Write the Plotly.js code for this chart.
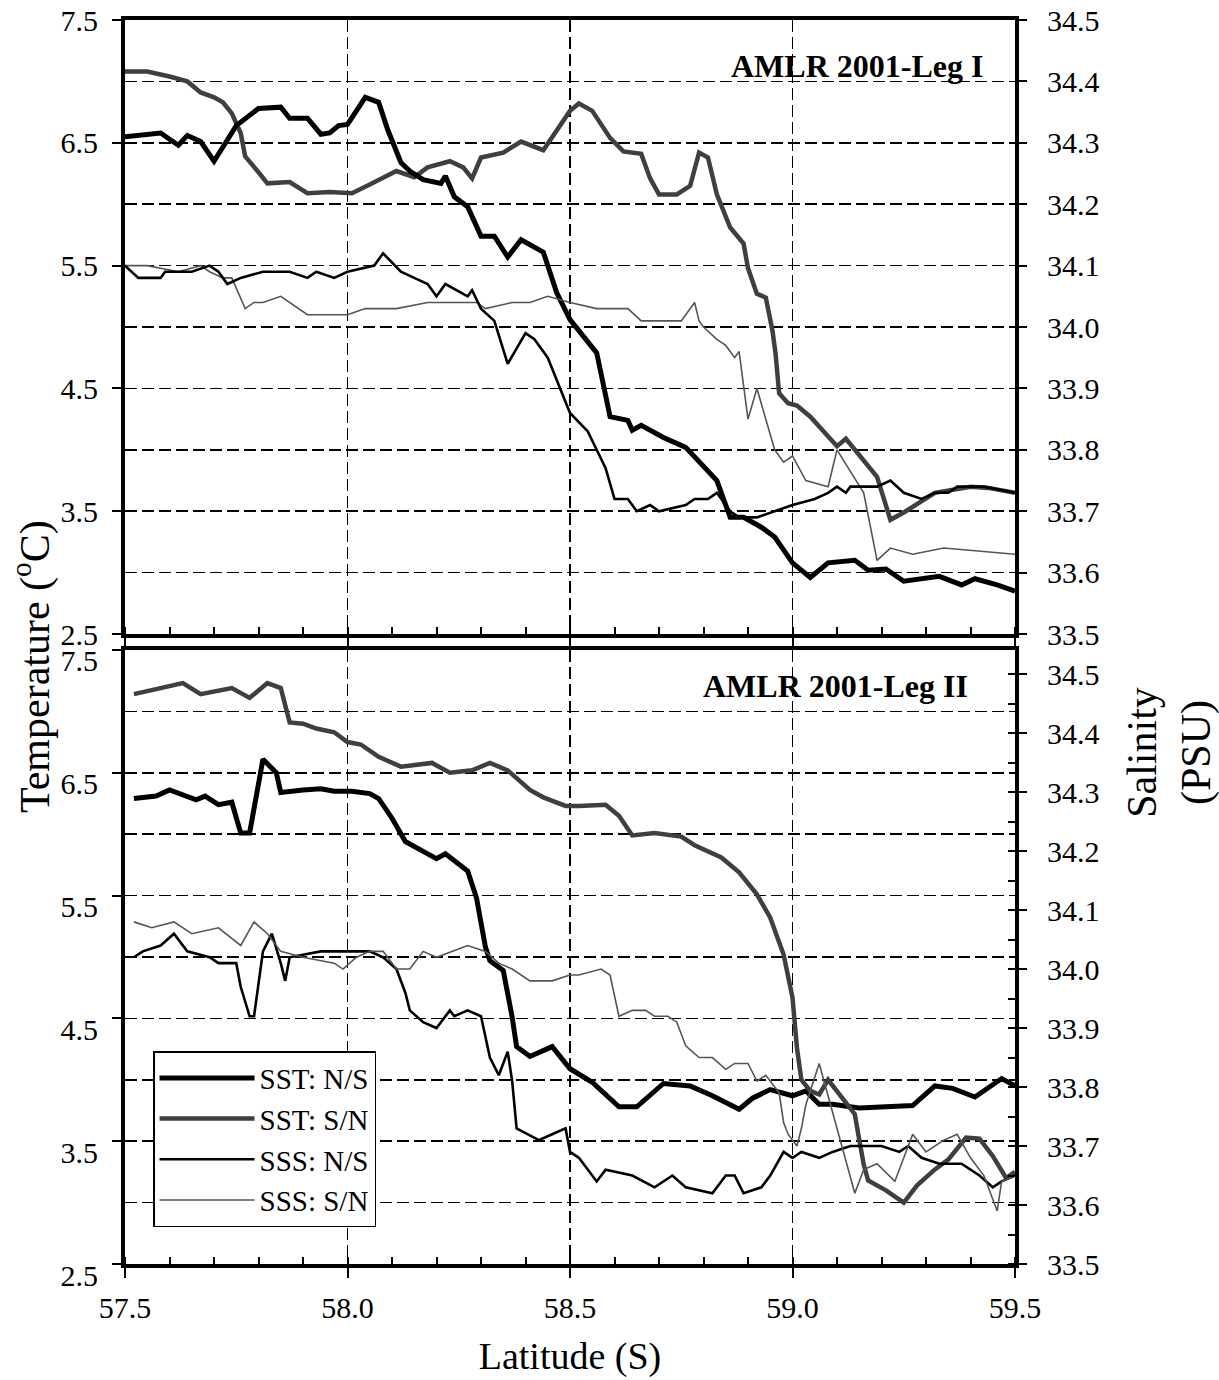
<!DOCTYPE html>
<html>
<head>
<meta charset="utf-8">
<script src="https://cdn.plot.ly/plotly-3.0.1.min.js"></script>
<style>
html,body{margin:0;padding:0;background:#fff;}
#chart{width:1219px;height:1380px;}
</style>
</head>
<body>
<div id="chart"></div>
<script>
// ---------- Leg I (top panel) ----------
var legI_sstNS_lat = [57.50,57.58,57.62,57.64,57.67,57.70,57.75,57.80,57.85,57.87,57.91,57.94,57.96,57.98,58.00,58.04,58.07,58.09,58.12,58.14,58.17,58.21,58.22,58.24,58.27,58.30,58.33,58.36,58.39,58.44,58.47,58.50,58.56,58.59,58.63,58.64,58.66,58.71,58.76,58.80,58.83,58.86,58.89,58.93,58.96,59.00,59.04,59.08,59.14,59.17,59.21,59.25,59.29,59.33,59.38,59.41,59.46,59.50];
var legI_sstNS_temp = [6.55,6.58,6.48,6.56,6.51,6.35,6.64,6.78,6.79,6.70,6.70,6.57,6.58,6.64,6.65,6.87,6.83,6.61,6.34,6.27,6.20,6.17,6.23,6.06,5.98,5.74,5.74,5.57,5.71,5.61,5.28,5.06,4.79,4.27,4.24,4.16,4.20,4.10,4.02,3.86,3.75,3.45,3.45,3.37,3.29,3.08,2.96,3.08,3.10,3.02,3.03,2.93,2.95,2.97,2.90,2.95,2.90,2.85];

var legI_sstSN_lat = [57.50,57.55,57.60,57.64,57.67,57.70,57.72,57.74,57.76,57.77,57.80,57.82,57.87,57.91,57.96,58.01,58.05,58.11,58.15,58.18,58.23,58.26,58.28,58.30,58.35,58.39,58.44,58.47,58.50,58.52,58.55,58.59,58.62,58.66,58.68,58.70,58.74,58.77,58.79,58.81,58.83,58.86,58.89,58.90,58.92,58.94,58.955,58.962,58.97,58.99,59.01,59.04,59.10,59.12,59.16,59.19,59.22,59.25,59.32,59.37,59.40,59.44,59.50];
var legI_sstSN_temp = [7.08,7.08,7.04,7.00,6.91,6.87,6.83,6.74,6.58,6.39,6.26,6.17,6.18,6.09,6.10,6.09,6.16,6.27,6.22,6.30,6.35,6.30,6.21,6.38,6.42,6.51,6.44,6.60,6.76,6.82,6.76,6.54,6.43,6.41,6.21,6.08,6.08,6.15,6.42,6.38,6.08,5.81,5.68,5.48,5.27,5.24,4.97,4.78,4.46,4.38,4.36,4.27,4.03,4.09,3.92,3.78,3.43,3.49,3.65,3.68,3.70,3.69,3.65];

var legI_sssNS_lat = [57.50,57.53,57.58,57.59,57.65,57.69,57.71,57.73,57.76,57.81,57.87,57.91,57.93,57.97,58.00,58.06,58.08,58.12,58.15,58.18,58.20,58.22,58.27,58.28,58.30,58.33,58.36,58.40,58.42,58.45,58.50,58.54,58.58,58.60,58.63,58.65,58.68,58.70,58.76,58.78,58.81,58.83,58.86,58.88,58.92,58.96,59.00,59.05,59.08,59.10,59.12,59.13,59.19,59.22,59.25,59.29,59.32,59.35,59.37,59.43,59.50];
var legI_sssNS_sal = [34.10,34.08,34.08,34.09,34.09,34.10,34.09,34.07,34.08,34.09,34.09,34.08,34.09,34.08,34.09,34.10,34.12,34.09,34.08,34.07,34.05,34.07,34.05,34.06,34.03,34.01,33.94,33.99,33.98,33.95,33.86,33.83,33.77,33.72,33.72,33.70,33.71,33.70,33.71,33.72,33.72,33.73,33.70,33.69,33.69,33.70,33.71,33.72,33.73,33.74,33.73,33.74,33.74,33.75,33.73,33.72,33.73,33.73,33.74,33.74,33.73];

var legI_sssSN_lat = [57.50,57.55,57.62,57.67,57.69,57.72,57.74,57.77,57.79,57.81,57.85,57.87,57.91,57.96,58.00,58.04,58.11,58.18,58.22,58.29,58.31,58.37,58.41,58.45,58.50,58.56,58.63,58.66,58.68,58.75,58.78,58.79,58.80,58.83,58.85,58.87,58.88,58.90,58.92,58.96,58.98,59.00,59.03,59.08,59.10,59.16,59.19,59.22,59.27,59.34,59.50];
var legI_sssSN_sal = [34.10,34.10,34.09,34.10,34.09,34.08,34.08,34.03,34.04,34.04,34.05,34.04,34.02,34.02,34.02,34.03,34.03,34.04,34.04,34.04,34.03,34.04,34.04,34.05,34.04,34.03,34.03,34.01,34.01,34.01,34.04,34.01,34.00,33.98,33.97,33.95,33.96,33.85,33.90,33.80,33.78,33.79,33.75,33.74,33.80,33.73,33.62,33.64,33.63,33.64,33.63];

// ---------- Leg II (bottom panel) ----------
var legII_sstNS_lat = [57.52,57.57,57.60,57.63,57.66,57.68,57.71,57.74,57.76,57.78,57.81,57.84,57.85,57.90,57.94,57.97,58.01,58.05,58.07,58.10,58.13,58.17,58.20,58.22,58.24,58.27,58.29,58.31,58.32,58.35,58.37,58.38,58.41,58.46,58.50,58.55,58.61,58.65,58.71,58.77,58.82,58.88,58.91,58.95,59.00,59.03,59.06,59.09,59.15,59.20,59.27,59.32,59.36,59.41,59.44,59.47,59.50];
var legII_sstNS_temp = [6.29,6.31,6.36,6.32,6.28,6.31,6.24,6.26,6.01,6.01,6.61,6.50,6.34,6.36,6.37,6.35,6.35,6.33,6.29,6.13,5.94,5.86,5.80,5.84,5.78,5.70,5.48,5.08,4.97,4.89,4.51,4.27,4.19,4.27,4.09,3.98,3.78,3.78,3.97,3.95,3.87,3.76,3.85,3.92,3.87,3.91,3.80,3.80,3.77,3.78,3.79,3.95,3.93,3.86,3.93,4.01,3.95];

var legII_sstSN_lat = [57.52,57.58,57.63,57.67,57.71,57.74,57.78,57.82,57.85,57.87,57.90,57.93,57.97,58.00,58.03,58.07,58.12,58.19,58.23,58.28,58.32,58.36,58.41,58.44,58.49,58.52,58.58,58.61,58.64,58.69,58.75,58.78,58.84,58.88,58.92,58.95,58.98,59.00,59.01,59.02,59.04,59.06,59.08,59.11,59.14,59.15,59.16,59.17,59.21,59.25,59.28,59.32,59.35,59.39,59.42,59.45,59.47,59.48,59.50];
var legII_sstSN_temp = [7.14,7.19,7.23,7.14,7.17,7.19,7.11,7.23,7.19,6.91,6.90,6.86,6.83,6.75,6.73,6.63,6.55,6.58,6.50,6.52,6.58,6.52,6.36,6.30,6.23,6.23,6.24,6.15,5.99,6.01,5.98,5.91,5.81,5.69,5.51,5.32,5.02,4.67,4.26,4.00,3.91,3.88,4.00,3.86,3.72,3.51,3.31,3.18,3.10,3.00,3.14,3.27,3.35,3.53,3.52,3.38,3.25,3.20,3.25];

var legII_sssNS_lat = [57.52,57.54,57.58,57.61,57.64,57.69,57.71,57.75,57.76,57.78,57.79,57.81,57.83,57.85,57.86,57.87,57.94,58.02,58.05,58.08,58.11,58.13,58.14,58.17,58.20,58.23,58.24,58.27,58.30,58.32,58.34,58.36,58.37,58.38,58.43,58.46,58.49,58.50,58.52,58.56,58.58,58.64,58.69,58.73,58.76,58.82,58.85,58.87,58.89,58.93,58.95,58.98,59.00,59.02,59.06,59.09,59.13,59.20,59.24,59.26,59.29,59.33,59.38,59.42,59.45,59.47,59.50];
var legII_sssNS_sal = [34.02,34.03,34.04,34.06,34.03,34.02,34.01,34.01,33.97,33.92,33.92,34.03,34.06,34.01,33.98,34.02,34.03,34.03,34.03,34.02,34.00,33.96,33.93,33.91,33.90,33.93,33.92,33.93,33.92,33.85,33.82,33.86,33.81,33.73,33.71,33.72,33.73,33.69,33.68,33.64,33.66,33.65,33.63,33.65,33.63,33.62,33.65,33.65,33.62,33.63,33.65,33.69,33.68,33.69,33.68,33.69,33.70,33.70,33.69,33.70,33.68,33.67,33.67,33.65,33.63,33.64,33.65];

var legII_sssSN_lat = [57.52,57.56,57.61,57.65,57.71,57.76,57.79,57.82,57.85,57.90,57.97,57.99,58.02,58.05,58.08,58.11,58.14,58.17,58.20,58.27,58.31,58.34,58.37,58.41,58.43,58.46,58.50,58.52,58.57,58.59,58.61,58.64,58.67,58.69,58.72,58.74,58.76,58.79,58.82,58.85,58.87,58.90,58.92,58.94,58.97,58.98,58.99,59.01,59.02,59.03,59.06,59.14,59.16,59.19,59.23,59.27,59.30,59.34,59.37,59.40,59.43,59.46,59.47,59.50];
var legII_sssSN_sal = [34.08,34.07,34.08,34.06,34.07,34.04,34.08,34.06,34.03,34.02,34.01,34.00,34.02,34.03,34.03,34.00,34.00,34.03,34.02,34.04,34.03,34.01,34.00,33.98,33.98,33.98,33.99,33.99,34.00,33.99,33.92,33.93,33.93,33.92,33.92,33.91,33.87,33.85,33.85,33.83,33.84,33.84,33.81,33.82,33.79,33.74,33.72,33.70,33.73,33.77,33.84,33.62,33.66,33.67,33.64,33.72,33.69,33.71,33.72,33.68,33.65,33.59,33.64,33.65];

var seriesNames = ['SST: N/S','SST: S/N','SSS: N/S','SSS: S/N'];
var panelLabels = ['AMLR 2001-Leg I','AMLR 2001-Leg II'];
var tempTicks = [2.5,3.5,4.5,5.5,6.5,7.5];
var latTicks = [57.5,58.0,58.5,59.0,59.5];

var FONT = 'Liberation Serif, Times New Roman, serif';
var styles = [
  {color:'#000000', width:5},
  {color:'#3f3f3f', width:4.5},
  {color:'#000000', width:2.6},
  {color:'#555555', width:1.6}
];

function tr(x, y, xa, ya, k, show){
  return {type:'scatter', mode:'lines', x:x, y:y, xaxis:xa, yaxis:ya,
    name:seriesNames[k], showlegend:show, line:{color:styles[k].color, width:styles[k].width, shape:'linear'},
    hoverinfo:'skip'};
}

var data = [
  tr(legI_sssSN_lat, legI_sssSN_sal, 'x', 'y2', 3, false),
  tr(legI_sssNS_lat, legI_sssNS_sal, 'x', 'y2', 2, false),
  tr(legI_sstSN_lat, legI_sstSN_temp, 'x', 'y', 1, false),
  tr(legI_sstNS_lat, legI_sstNS_temp, 'x', 'y', 0, false),
  tr(legII_sstNS_lat, legII_sstNS_temp, 'x2', 'y3', 0, true),
  tr(legII_sstSN_lat, legII_sstSN_temp, 'x2', 'y3', 1, true),
  tr(legII_sssNS_lat, legII_sssNS_sal, 'x2', 'y4', 2, true),
  tr(legII_sssSN_lat, legII_sssSN_sal, 'x2', 'y4', 3, true)
];

var GRID = {showgrid:true, gridcolor:'#000', gridwidth:1.6, griddash:'12px,5px'};
var tickFont = {family:FONT, size:30, color:'#000'};

function xAxis(anchor, labels){
  return Object.assign({
    anchor:anchor, domain:[0,1], range:[57.5,59.5], tickmode:'array', tickvals:latTicks,
    tickformat:'.1f', showticklabels:labels, ticks:'outside', ticklen:10, tickwidth:2, tickcolor:'#000',
    ticklabelstandoff:4, tickfont:tickFont,
    showline:true, linewidth:4, linecolor:'#000', mirror:true, zeroline:false,
    minor:{dtick:0.1, tick0:57.5, ticks:'inside', ticklen:7, tickwidth:2, tickcolor:'#000', showgrid:false}
  }, GRID);
}
function tAxis(anchor, domain, shift){
  return Object.assign({
    anchor:anchor, domain:domain, range:[2.5,7.5], tickmode:'array', tickvals:tempTicks, tickformat:'.1f',
    ticks:'outside', ticklen:9, tickwidth:2, tickcolor:'#000', ticklabelstandoff:8, ticklabelshift:shift, tickfont:tickFont,
    showline:true, linewidth:4, linecolor:'#000', mirror:true, zeroline:false,
    minor:{dtick:0.5, tick0:2.5, ticks:'', showgrid:true, gridcolor:'#000', gridwidth:1.6, griddash:'12px,5px'}
  }, GRID);
}
function sAxis(anchor, overlay, rng, minorTicks){
  var a = {
    anchor:anchor, overlaying:overlay, side:'right', range:rng, dtick:0.1, tick0:33.5, tickformat:'.1f',
    ticks:'outside', ticklen:8, tickwidth:2, tickcolor:'#000', ticklabelstandoff:14, tickfont:tickFont,
    showline:true, linewidth:4, linecolor:'#000', showgrid:false, zeroline:false
  };
  if (minorTicks) a.minor = {dtick:0.05, tick0:33.5, ticks:'inside', ticklen:7, tickwidth:2, tickcolor:'#000', showgrid:false};
  return a;
}

var layout = {
  width:1219, height:1380,
  margin:{l:125, r:204, t:20, b:116},
  paper_bgcolor:'#fff', plot_bgcolor:'#fff',
  font:{family:FONT, color:'#000'},
  showlegend:true,
  xaxis: xAxis('y', false),
  yaxis: tAxis('x', [0.5064, 1], 0),
  yaxis2: sAxis('x', 'y', [33.5, 34.5], false),
  xaxis2: Object.assign(xAxis('y3', true), {title:{text:'Latitude (S)', font:{family:FONT, size:38, color:'#000'}, standoff:20}}),
  yaxis3: tAxis('x2', [0, 0.4936], 11),
  yaxis4: sAxis('x2', 'y3', [33.5, 34.541], true),
  legend:{x:0.0315, y:0.1712, xanchor:'left', yanchor:'top', bgcolor:'#fff', bordercolor:'#000', borderwidth:1.5,
    font:{family:FONT, size:29, color:'#000'}, itemwidth:95, traceorder:'normal'},
  annotations:[
    {text:panelLabels[0], xref:'x domain', yref:'y domain', x:0.966, y:0.925, xanchor:'right', yanchor:'middle',
     showarrow:false, font:{family:FONT, size:32, color:'#000', weight:'bold'}},
    {text:panelLabels[1], xref:'x2 domain', yref:'y3 domain', x:0.949, y:0.941, xanchor:'right', yanchor:'middle',
     showarrow:false, font:{family:FONT, size:32, color:'#000', weight:'bold'}},
    {text:'Temperature (<sup>o</sup>C)', xref:'paper', yref:'paper', x:-0.1045, y:0.4807, xanchor:'center', yanchor:'middle',
     textangle:-90, showarrow:false, font:{family:FONT, size:42, color:'#000'}},
    {text:'Salinity<br>(PSU)', xref:'paper', yref:'paper', x:1.174, y:0.4116, xanchor:'center', yanchor:'middle',
     textangle:-90, showarrow:false, font:{family:FONT, size:42, color:'#000'}}
  ]
};

Plotly.newPlot('chart', data, layout, {staticPlot:true, displayModeBar:false});
</script>
</body>
</html>
